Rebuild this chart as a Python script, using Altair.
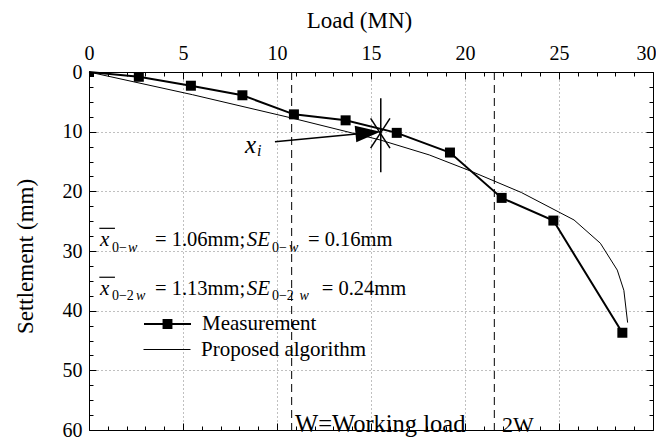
import altair as alt
import pandas as pd

FONT = "Liberation Serif"

# ---------------- data ----------------
series_names = ["Measurement", "Proposed algorithm"]
meas_load = [0, 2.65, 5.42, 8.16, 10.9, 13.65, 16.37, 19.2, 21.95, 24.7, 28.37]
meas_settle = [0, 0.8, 2.3, 3.9, 7.1, 8.1, 10.2, 13.5, 21.1, 24.9, 43.7]
prop_load = [0, 5.5, 10.9, 15.5, 18.1, 20.3, 23.0, 25.8, 27.2, 28.1, 28.45, 28.65]
prop_settle = [0, 3.8, 7.8, 11.4, 13.9, 16.6, 20.2, 24.8, 28.7, 33.2, 36.6, 42.0]
working_loads = [10.78, 21.56]
x_ticks = list(range(0, 31))
y_ticks = [i * 2.5 for i in range(25)]

# annotation texts (position in data units: load, settlement)
ann_formula = [("= 1.06mm;", 3.51, 28.19), ("= 0.16mm", 11.65, 28.19),
               ("= 1.13mm;", 3.51, 36.29), ("= 0.24mm", 12.38, 36.29)]
ann_wl = [("W=Working load", 10.96, 59.2)]
ann_2w = [("2W", 21.97, 59.2)]
ann_big_italic = [("x", 0.585, 28.19), ("SE", 8.39, 28.19),
                  ("x", 0.585, 36.29), ("SE", 8.39, 36.29)]
ann_sub_upright = [("0−", 1.22, 29.58), ("0−", 9.73, 29.58),
                   ("0−2", 1.22, 37.6), ("0−2", 9.73, 37.6)]
ann_sub_italic = [("w", 2.07, 29.58), ("w", 10.64, 29.58),
                  ("w", 2.5, 37.6), ("w", 11.2, 37.6)]
xi_main = [("x", 8.3, 12.25)]
xi_sub = [("i", 8.94, 13.26)]
overlines = [(0.55, 1.38, 26.2), (0.55, 1.38, 34.4)]
# marker of x_i : vertical bar, two diagonals, arrow
star_lines = [(15.52, 15.52, 4.4, 16.8), (14.98, 16.01, 7.77, 12.75), (16.01, 14.98, 7.77, 12.75)]
arrow_line = [(9.89, 15.2, 11.69, 10.08)]
arrow_tip = [(15.5, 10.0)]

# ---------------- chart ----------------
meas_df = pd.DataFrame({"load": meas_load, "settle": meas_settle})
prop_df = pd.DataFrame({"load": prop_load, "settle": prop_settle})

xs = alt.Scale(domain=[0, 30], nice=False, zero=False)
ys = alt.Scale(domain=[0, 60], nice=False, reverse=True)

mx = "datum.value % 5 === 0"
my = "datum.value % 10 === 0"

x_top = alt.Axis(orient="top", values=x_ticks, title="Load (MN)",
                 labelExpr=f"{mx} ? datum.label : ''", labelOverlap=False, labelFlush=False,
                 labelAlign={"condition": {"test": "datum.value === 30", "value": "right"},
                             "value": "center"},
                 labelOffset={"condition": {"test": "datum.value === 30", "value": 3},
                              "value": 0},
                 tickSize={"condition": {"test": mx, "value": -7}, "value": -4},
                 labelPadding=16, grid=True, gridDash=[1, 3], gridColor="#808080",
                 gridOpacity={"condition": {"test": mx, "value": 1}, "value": 0},
                 titleX=270, titleY=-45, titleBaseline="alphabetic")
y_left = alt.Axis(orient="left", values=y_ticks, title="Settlement (mm)",
                  labelExpr=f"{my} ? datum.label : ''", labelOverlap=False, labelFlush=False,
                  tickSize={"condition": {"test": my, "value": -7}, "value": -4},
                  labelPadding=14, grid=True, gridDash=[1, 3], gridColor="#808080",
                  gridOpacity={"condition": {"test": my, "value": 1}, "value": 0},
                  titleX=-57, titleY=184, titleBaseline="alphabetic")
x_bot = alt.Axis(orient="bottom", values=x_ticks, title=None, labels=False, grid=False,
                 tickSize={"condition": {"test": mx, "value": -7}, "value": -4})
y_right = alt.Axis(orient="right", values=y_ticks, title=None, labels=False, grid=False,
                   tickSize={"condition": {"test": my, "value": -7}, "value": -4})

meas_line = alt.Chart(meas_df).mark_line(color="black", strokeWidth=2).encode(
    x=alt.X("load:Q", scale=xs, axis=x_top),
    y=alt.Y("settle:Q", scale=ys, axis=y_left),
)
prop_line = alt.Chart(prop_df).mark_line(color="black", strokeWidth=1).encode(
    x=alt.X("load:Q", scale=xs, axis=x_bot),
    y=alt.Y("settle:Q", scale=ys, axis=y_right),
)
meas_pts = alt.Chart(meas_df).mark_point(shape="square", filled=True, size=100, color="black",
                                         opacity=1, clip=True).encode(
    x=alt.X("load:Q", scale=xs, axis=None),
    y=alt.Y("settle:Q", scale=ys, axis=None),
)

# legend symbols: line segment (+ square built from short strokes for the measurement)
sym_meas = ("M-1,0H1M-0.21,-0.17H0.21M-0.21,-0.085H0.21M-0.21,0.085H0.21"
            "M-0.21,0.17H0.21")
sym_prop = "M-1,0H1"


def legend_layer(name, symbol, sw, y_pos):
    df = pd.DataFrame({"series": [name], "load": [0], "settle": [0]})
    return alt.Chart(df).transform_filter("datum.load < 0").mark_point(
        filled=False, stroke="black", strokeWidth=sw).encode(
        x=alt.X("load:Q", scale=xs, axis=None),
        y=alt.Y("settle:Q", scale=ys, axis=None),
        shape=alt.Shape("series:N", scale=alt.Scale(domain=[name], range=[symbol]),
                        legend=alt.Legend(title=None, orient="none", legendX=54, legendY=y_pos,
                                          symbolSize=2209, symbolOpacity=1,
                                          symbolStrokeColor="black",
                                          symbolStrokeWidth=sw, labelFont=FONT,
                                          labelFontSize=21, labelColor="black", labelOffset=10,
                                          labelLimit=400, padding=0)),
    )


leg_meas = legend_layer(series_names[0], sym_meas, 2, 227.5)
leg_prop = legend_layer(series_names[1], sym_prop, 1, 253.5)

rules_w = alt.Chart(pd.DataFrame({"load": working_loads})).mark_rule(
    color="black", strokeWidth=1, strokeDash=[8, 5]).encode(
    x=alt.X("load:Q", scale=xs, axis=None))


def text_layer(items, size, style):
    df = pd.DataFrame(items, columns=["t", "load", "settle"])
    return alt.Chart(df).mark_text(align="left", baseline="middle", font=FONT, fontSize=size,
                                   fontStyle=style, color="black").encode(
        x=alt.X("load:Q", scale=xs, axis=None),
        y=alt.Y("settle:Q", scale=ys, axis=None),
        text="t:N")


def seg_layer(items, width):
    df = pd.DataFrame(items, columns=["x1", "x2", "y1", "y2"])
    return alt.Chart(df).mark_rule(color="black", strokeWidth=width).encode(
        x=alt.X("x1:Q", scale=xs, axis=None), x2="x2:Q",
        y=alt.Y("y1:Q", scale=ys, axis=None), y2="y2:Q")


over_df = pd.DataFrame(overlines, columns=["x1", "x2", "y"])
over_layer = alt.Chart(over_df).mark_rule(color="black", strokeWidth=1.2).encode(
    x=alt.X("x1:Q", scale=xs, axis=None), x2="x2:Q",
    y=alt.Y("y:Q", scale=ys, axis=None))

tip_df = pd.DataFrame(arrow_tip, columns=["load", "settle"])
tip_layer = alt.Chart(tip_df).mark_point(shape="M0,0L-2,-0.667L-2,0.667Z", size=625, filled=True,
                                         color="black", opacity=1, angle=354.6).encode(
    x=alt.X("load:Q", scale=xs, axis=None),
    y=alt.Y("settle:Q", scale=ys, axis=None))

chart = alt.layer(
    meas_line, prop_line, rules_w, meas_pts, leg_meas, leg_prop,
    text_layer(ann_formula, 20.5, "normal"),
    text_layer(ann_wl, 24.5, "normal"),
    text_layer(ann_2w, 22, "normal"),
    text_layer(ann_big_italic, 21, "italic"),
    text_layer(ann_sub_upright, 14, "normal"),
    text_layer(ann_sub_italic, 14, "italic"),
    text_layer(xi_main, 25, "italic"),
    text_layer(xi_sub, 16, "italic"),
    over_layer,
    seg_layer(star_lines, 1.5),
    seg_layer(arrow_line, 1.5),
    tip_layer,
).resolve_axis(x="independent", y="independent").resolve_scale(
    shape="independent").resolve_legend(shape="independent").properties(
    width=564, height=358,
    autosize=alt.AutoSizeParams(type="none"),
    padding={"left": 81, "top": 64, "right": 3, "bottom": 9},
).configure_axis(
    labelFont=FONT, titleFont=FONT, labelFontSize=20, titleFontSize=23,
    titleFontWeight="normal", labelColor="black", titleColor="black",
    domainColor="black", domainWidth=1, tickColor="black", tickWidth=1,
).configure_view(stroke=None)

chart.save("out.html", embed_options={"renderer": "svg", "actions": False})
